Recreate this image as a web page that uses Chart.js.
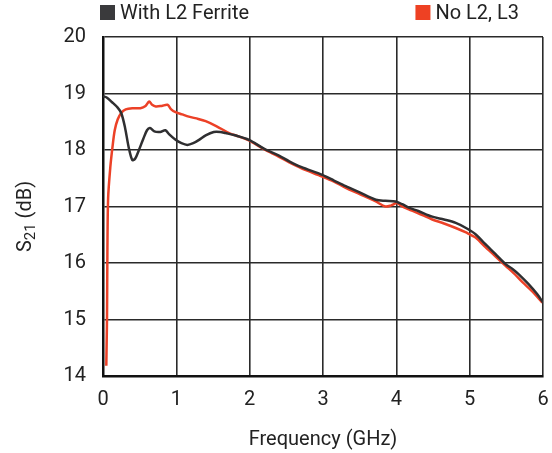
<!DOCTYPE html>
<html>
<head>
<meta charset="utf-8">
<script src="https://cdn.jsdelivr.net/npm/chart.js@4"></script>
<style>
  html, body { margin: 0; padding: 0; background: #fff; }
  #wrap { width: 552px; height: 453px; }
</style>
</head>
<body>
<div id="wrap"><canvas id="s21Chart" width="552" height="453"></canvas></div>
<script>
// With L2 Ferrite
const freqFerrite = [0, 0.05, 0.12, 0.2, 0.25, 0.3, 0.35, 0.4, 0.44, 0.49, 0.55, 0.6, 0.64, 0.7, 0.78, 0.85, 0.9, 0.99,
    1.07, 1.15, 1.23, 1.31, 1.4, 1.51, 1.6, 1.67, 1.8, 1.99, 2.2, 2.4, 2.54, 2.7, 2.99, 3.15, 3.31, 3.5, 3.72, 3.85, 3.99,
    4.08, 4.17, 4.3, 4.49, 4.65, 4.81, 4.95, 5.08, 5.2, 5.35, 5.49, 5.58, 5.67, 5.8, 5.92, 6.0];
const s21Ferrite = [18.95, 18.93, 18.85, 18.75, 18.65, 18.4, 18.05, 17.82, 17.85, 18.0, 18.2, 18.35, 18.39, 18.33, 18.32, 18.35, 18.28, 18.18,
    18.12, 18.09, 18.12, 18.18, 18.26, 18.32, 18.32, 18.3, 18.26, 18.18, 18.02, 17.9, 17.8, 17.7, 17.56, 17.46, 17.36, 17.25, 17.12, 17.1, 17.09,
    17.04, 16.98, 16.92, 16.82, 16.77, 16.71, 16.62, 16.51, 16.35, 16.16, 15.98, 15.9, 15.8, 15.63, 15.45, 15.3];

// No L2, L3
const freqNoL2 = [0.045, 0.05, 0.055, 0.06, 0.07, 0.1, 0.13, 0.16, 0.2, 0.25, 0.31, 0.4, 0.51, 0.58, 0.63, 0.67, 0.72, 0.8, 0.88, 0.93, 0.99,
    1.08, 1.17, 1.3, 1.4, 1.55, 1.72, 1.85, 1.99, 2.2, 2.4, 2.54, 2.7, 2.99, 3.15, 3.31, 3.5, 3.72, 3.85, 3.93, 4.01,
    4.08, 4.17, 4.3, 4.49, 4.65, 4.81, 4.95, 5.08, 5.2, 5.35, 5.49, 5.6, 5.72, 5.85, 5.99];
const s21NoL2 = [14.18, 14.6, 15.06, 16.2, 17.15, 17.7, 18.06, 18.35, 18.54, 18.66, 18.72, 18.74, 18.74, 18.78, 18.86, 18.8, 18.77, 18.78, 18.8, 18.72, 18.67,
    18.63, 18.59, 18.55, 18.51, 18.42, 18.3, 18.24, 18.17, 18.01, 17.88, 17.78, 17.68, 17.53, 17.44, 17.33, 17.22, 17.09, 17.0, 17.02, 17.06,
    17.0, 16.95, 16.88, 16.77, 16.7, 16.62, 16.54, 16.45, 16.3, 16.12, 15.95, 15.82, 15.66, 15.5, 15.3];

const seriesLabels = ['With L2 Ferrite', 'No L2, L3'];
const xTicks = [0, 1, 2, 3, 4, 5, 6];
const yTicks = [14, 15, 16, 17, 18, 19, 20];

const FONT = 'Roboto, "Liberation Sans", Arial, sans-serif';
const toPoints = (xs, ys) => xs.map((x, i) => ({x: x, y: ys[i]}));

// legend split left/right + y title with subscript
const extras = {
    id: 'extras',
    afterDraw(chart) {
        const c = chart.ctx;
        const area = chart.chartArea;
        c.save();
        c.font = '20px ' + FONT;
        c.textBaseline = 'middle';

        const ds = chart.data.datasets;
        // left item
        c.fillStyle = ds[0].legendColor;
        c.fillRect(area.left - 3, 5, 15, 15);
        c.fillStyle = '#222';
        c.textAlign = 'left';
        c.fillText(ds[0].label, area.left + 17, 14);
        // right item
        c.textAlign = 'right';
        const w = c.measureText(ds[1].label).width;
        const rx = area.right - 24;
        c.fillText(ds[1].label, rx, 14);
        c.fillStyle = ds[1].legendColor;
        c.fillRect(rx - w - 20, 5, 15, 15);

        // y title: S21 (dB)
        c.translate(26, (area.top + area.bottom) / 2 + 10);
        c.rotate(-Math.PI / 2);
        c.fillStyle = '#222';
        const parts = [['S', 20, 0], ['21', 15, 5], [' (dB)', 20, 0]];
        let total = 0;
        parts.forEach(p => { c.font = p[1] + 'px ' + FONT; total += c.measureText(p[0]).width; });
        let x = -total / 2;
        c.textAlign = 'left';
        parts.forEach(p => {
            c.font = p[1] + 'px ' + FONT;
            c.fillText(p[0], x, p[2]);
            x += c.measureText(p[0]).width;
        });
        c.restore();
    }
};

const ctx = document.getElementById('s21Chart').getContext('2d');
const s21Chart = new Chart(ctx, {
    type: 'scatter',
    data: {
        datasets: [{
            label: seriesLabels[0],
            data: toPoints(freqFerrite, s21Ferrite),
            borderColor: '#2f2f31',
            legendColor: '#3a3a3c',
            borderWidth: 2.5,
            showLine: true,
            pointRadius: 0,
            tension: 0.3
        }, {
            label: seriesLabels[1],
            data: toPoints(freqNoL2, s21NoL2),
            borderColor: '#ec4127',
            legendColor: '#ee4123',
            borderWidth: 2.5,
            showLine: true,
            pointRadius: 0,
            tension: 0.3
        }]
    },
    options: {
        responsive: false,
        animation: false,
        layout: { padding: { left: 0, right: 9, top: 37, bottom: 0 } },
        plugins: {
            legend: { display: false },
            tooltip: { enabled: false }
        },
        scales: {
            x: {
                type: 'linear',
                min: 0,
                max: 6,
                afterBuildTicks: s => { s.ticks = xTicks.map(v => ({value: v})); },
                afterFit: s => { s.height = 77; s.paddingLeft = 0; s.paddingRight = 0; },
                ticks: { font: { size: 20, family: FONT }, color: '#222', padding: 12, maxRotation: 0 },
                grid: { color: '#2a2a2a', lineWidth: 1.6, drawTicks: false },
                border: { color: '#111', width: 2.5 },
                title: { display: true, text: 'Frequency (GHz)', font: { size: 20, family: FONT }, color: '#222', padding: { top: 4, bottom: 1 } }
            },
            y: {
                min: 14,
                max: 20,
                afterBuildTicks: s => { s.ticks = yTicks.map(v => ({value: v})); },
                afterFit: s => { s.width = 103; s.paddingTop = 0; s.paddingBottom = 0; },
                ticks: { font: { size: 20, family: FONT }, color: '#222', padding: 17 },
                grid: { color: '#2a2a2a', lineWidth: 1.6, drawTicks: false },
                border: { color: '#111', width: 2.5 }
            }
        }
    },
    plugins: [extras]
});
</script>
</body>
</html>
